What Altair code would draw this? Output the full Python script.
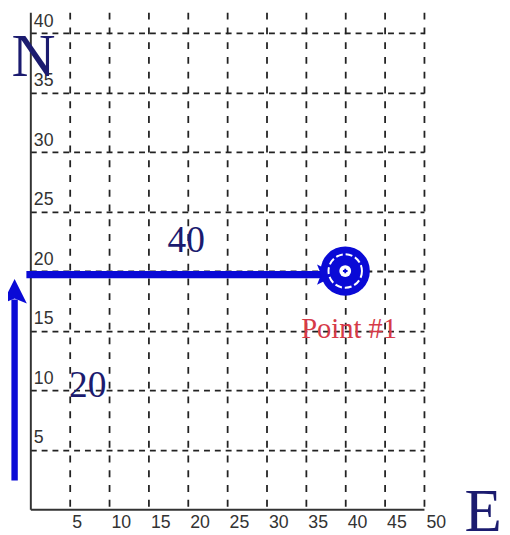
import altair as alt
import pandas as pd

# ---- data ----
x_ticks = [5, 10, 15, 20, 25, 30, 35, 40, 45, 50]
y_ticks = [5, 10, 15, 20, 25, 30, 35, 40]
x_domain = [0, 50]
y_domain = [0, 41.74]

# east leg (40 units), drawn as thick line ending at point #1
east_x = [-0.5]
east_x2 = [40]
east_y = [19.7]
east_head_x = [37.7]
east_head_y = [19.7]

# north leg (20 units), arrow beside the axis
north_x = [-2]
north_y = [2.4]
north_y2 = [17.6]
north_head_x = [-2]
north_head_y = [18.3]

# point #1
pt_x = [40]
pt_y = [20]

# annotations
big_text = ["N", "E"]
big_x = [0.4, 57.5]
big_y = [36.4, -1.8]
num_text = ["40", "20"]
num_x = [19.8, 7.3]
num_y = [21.6, 9.4]
pt_label = ["Point #1"]
pt_label_x = [40.5]
pt_label_y = [14.4]

BLUE = "#0a0ad6"
NAVY = "#1b1b6f"
RED = "#d63a48"

xs = alt.Scale(domain=x_domain, nice=False, zero=False)
ys = alt.Scale(domain=y_domain, nice=False, zero=False)

x_axis = alt.Axis(values=x_ticks, title=None, grid=True, gridDash=[7, 8],
                  gridColor="#222", gridWidth=1.8, ticks=False, tickSize=0,
                  labelPadding=5, labelAlign="left", labelOffset=2, labelBaseline="top",
                  labelFont="Liberation Sans", labelFontSize=18, labelColor="#333",
                  domainColor="#333", domainWidth=2, labelFlush=False, labelOverlap=False)
y_axis = alt.Axis(values=y_ticks, title=None, grid=True, gridDash=[6, 5],
                  gridColor="#222", gridWidth=1.8, ticks=False, tickSize=0,
                  labelPadding=-3, labelAlign="left", labelOffset=-7,
                  labelBaseline="alphabetic",
                  labelFont="Liberation Sans", labelFontSize=18, labelColor="#333",
                  domainColor="#333", domainWidth=2, labelFlush=False, labelOverlap=False)

X = alt.X("x:Q", scale=xs, axis=x_axis)
Y = alt.Y("y:Q", scale=ys, axis=y_axis)

east = alt.Chart(pd.DataFrame({"x": east_x, "x2": east_x2, "y": east_y})).mark_rule(
    color=BLUE, strokeWidth=7.5).encode(x=X, x2="x2:Q", y=Y)
east_head = alt.Chart(pd.DataFrame({"x": east_head_x, "y": east_head_y})).mark_point(
    shape="M1,0 L-1,-1 L-0.6,0 L-1,1 Z", filled=True, color=BLUE, opacity=1, size=420
).encode(x=X, y=Y)

north = alt.Chart(pd.DataFrame({"x": north_x, "y": north_y, "y2": north_y2})).mark_rule(
    color=BLUE, strokeWidth=6.5).encode(x=X, y=Y, y2="y2:Q")
north_head = alt.Chart(pd.DataFrame({"x": north_head_x, "y": north_head_y})).mark_point(
    shape="M0,-1 L1,1 L0,0.6 L-1,1 Z", filled=True, color=BLUE, opacity=1, size=620
).encode(x=X, y=Y)

pt_df = pd.DataFrame({"x": pt_x, "y": pt_y})
disc = alt.Chart(pt_df).mark_point(shape="circle", filled=True, color=BLUE,
                                   opacity=1, size=2500).encode(x=X, y=Y)
ring = alt.Chart(pt_df).mark_point(shape="circle", filled=False, color="white",
                                   strokeWidth=2, strokeDash=[7, 3], opacity=1,
                                   size=1156).encode(x=X, y=Y)
center = alt.Chart(pt_df).mark_point(shape="circle", filled=True, color="white",
                                     opacity=1, size=144).encode(x=X, y=Y)
center_dot = alt.Chart(pt_df).mark_point(shape="cross", filled=True, color=BLUE,
                                         opacity=1, size=22).encode(x=X, y=Y)

big = alt.Chart(pd.DataFrame({"x": big_x, "y": big_y, "t": big_text})).mark_text(
    font="Liberation Serif", fontSize=62, color=NAVY, align="center",
    baseline="alphabetic").encode(x=X, y=Y, text="t:N")
nums = alt.Chart(pd.DataFrame({"x": num_x, "y": num_y, "t": num_text})).mark_text(
    font="Liberation Serif", fontSize=38, color=NAVY, align="center",
    baseline="alphabetic").encode(x=X, y=Y, text="t:N")
ptl = alt.Chart(pd.DataFrame({"x": pt_label_x, "y": pt_label_y, "t": pt_label})).mark_text(
    font="Liberation Serif", fontSize=29, color=RED, align="center",
    baseline="alphabetic").encode(x=X, y=Y, text="t:N")

chart = alt.layer(
    east, east_head, north, north_head, disc, ring, center, center_dot, big, nums, ptl
).properties(
    width=400, height=505,
    padding={"left": 22.7, "top": 0, "right": 79.3, "bottom": 22},
    autosize=alt.AutoSizeParams(type="none"),
    background="white",
).configure_view(stroke=None)

chart.save("out.html", embed_options={"renderer": "svg", "actions": False})
